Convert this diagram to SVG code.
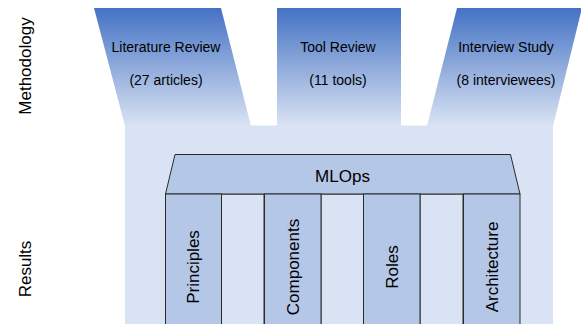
<svg xmlns="http://www.w3.org/2000/svg" width="581" height="324" viewBox="0 0 581 324">
  <defs>
    <linearGradient id="grad" x1="0" y1="8" x2="0" y2="126" gradientUnits="userSpaceOnUse">
      <stop offset="0" stop-color="#4472C4"/>
      <stop offset="1" stop-color="#DAE3F3"/>
    </linearGradient>
    <style>
      .lbl { font-family: "Liberation Sans", Arial, sans-serif; fill: #000; }
      .side { font-size: 17px; }
      .src { font-size: 14px; text-anchor: middle; }
      .big { font-size: 17px; text-anchor: middle; }
      .pillar { fill: #B4C7E7; stroke: #2b2b2b; stroke-width: 1; }
      .gap { fill: #DAE3F3; stroke: #2b2b2b; stroke-width: 1; }
    </style>
  </defs>
  <rect width="581" height="324" fill="#FFFFFF"/>

  <g id="axis-labels">
    <text class="lbl side" text-anchor="middle" transform="translate(31,66) rotate(-90)">Methodology</text>
    <text class="lbl side" text-anchor="middle" transform="translate(31,269) rotate(-90)">Results</text>
  </g>

  <g id="results-area">
    <rect x="125" y="125.5" width="428" height="199" fill="#DAE3F3"/>
  </g>

  <g id="literature-review">
    <polygon points="94,8 221,8 251,126 125,126" fill="url(#grad)"/>
    <text class="lbl src" x="166" y="52">Literature Review</text>
    <text class="lbl src" x="166" y="85">(27 articles)</text>
  </g>

  <g id="tool-review">
    <polygon points="277,8 401,8 401,126 277,126" fill="url(#grad)"/>
    <text class="lbl src" x="338" y="52">Tool Review</text>
    <text class="lbl src" x="338" y="85">(11 tools)</text>
  </g>

  <g id="interview-study">
    <polygon points="457,8 582,8 553,126 427,126" fill="url(#grad)"/>
    <text class="lbl src" x="506" y="52">Interview Study</text>
    <text class="lbl src" x="506" y="85">(8 interviewees)</text>
  </g>

  <g id="connectors"></g>

  <g id="gaps">
    <rect class="gap" x="221.5" y="194" width="42.5" height="135"/>
    <rect class="gap" x="321" y="194" width="42.5" height="135"/>
    <rect class="gap" x="420" y="194" width="43" height="135"/>
  </g>

  <g id="mlops">
    <polygon class="pillar" points="175,154.5 510.5,154.5 520,194 165.5,194"/>
    <text class="lbl big" x="342.5" y="182">MLOps</text>
  </g>

  <g id="principles">
    <rect class="pillar" x="165.5" y="194" width="56" height="135"/>
    <text class="lbl big" transform="translate(199,267) rotate(-90)">Principles</text>
  </g>

  <g id="components">
    <rect class="pillar" x="264.5" y="194" width="56.5" height="135"/>
    <text class="lbl big" transform="translate(298.5,267) rotate(-90)">Components</text>
  </g>

  <g id="roles">
    <rect class="pillar" x="363.5" y="194" width="56.5" height="135"/>
    <text class="lbl big" transform="translate(397.5,267) rotate(-90)">Roles</text>
  </g>

  <g id="architecture">
    <rect class="pillar" x="463.5" y="194" width="56.5" height="135"/>
    <text class="lbl big" transform="translate(497.5,267) rotate(-90)">Architecture</text>
  </g>
</svg>
